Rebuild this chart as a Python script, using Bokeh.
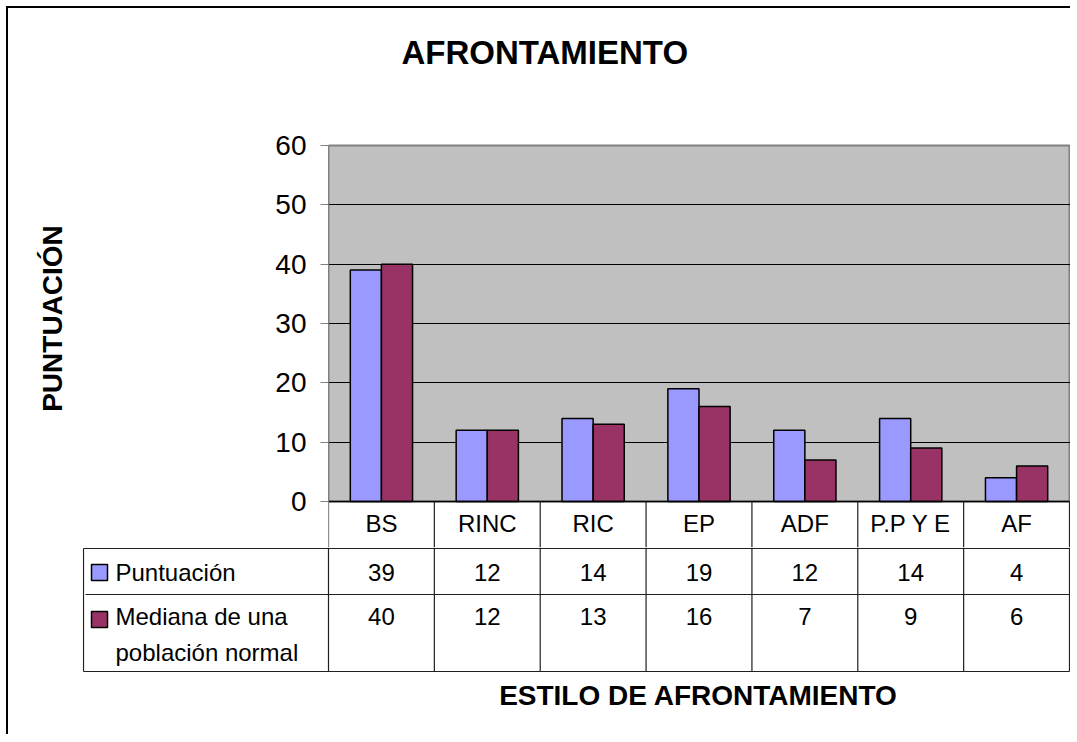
import textwrap
from bokeh.plotting import figure
from bokeh.layouts import column
from bokeh.models import Range1d, FixedTicker, ColumnDataSource, Label
from bokeh.core.properties import value
from bokeh.embed import file_html
from bokeh.resources import INLINE
from bokeh.transform import dodge

# ---------------- data ----------------
categories = ["BS", "RINC", "RIC", "EP", "ADF", "P.P Y E", "AF"]
puntuacion = [39, 12, 14, 19, 12, 14, 4]
mediana = [40, 12, 13, 16, 7, 9, 6]
series_names = ["Puntuación", "Mediana de una población normal"]
series_colors = ["#9999FF", "#993366"]
y_ticks = [0, 10, 20, 30, 40, 50, 60]
title_text = "AFRONTAMIENTO"
y_title = "PUNTUACIÓN"
x_title = "ESTILO DE AFRONTAMIENTO"

FONT_NAME = "Liberation Sans"
FONT = value(FONT_NAME)
N = len(categories)
YMAX = max(y_ticks)

# layout geometry (pixels)
PX = 741 / N          # px per category
PY = 356 / YMAX       # px per y unit

xs = [i + 0.5 for i in range(N)]
src = ColumnDataSource(dict(x=xs, cat=categories, p=puntuacion, m=mediana,
                            ps=[str(v) for v in puntuacion],
                            ms=[str(v) for v in mediana]))

# ---------------- chart figure ----------------
pA = figure(width=1062, height=539,
            x_range=Range1d(0, N + 1 / PX),
            y_range=Range1d(-(547 - 501) / PY, YMAX + (145 - 89) / PY),
            min_border_left=320, min_border_right=0, min_border_top=81, min_border_bottom=0,
            x_axis_location=None, y_axis_location="left",
            output_backend="svg", toolbar_location=None)
pA.outline_line_color = None
pA.background_fill_color = "white"
pA.border_fill_color = "white"
pA.xgrid.visible = False

pA.title.text = title_text
pA.title.align = "left"
pA.title.offset = 73
pA.title.standoff = 38
pA.title.text_font = FONT_NAME
pA.title.text_font_size = "33px"
pA.title.text_font_style = "bold"
pA.title.text_color = "black"

yax = pA.yaxis[0]
yax.ticker = FixedTicker(ticks=y_ticks)
yax.bounds = (min(y_ticks), YMAX)
yax.minor_tick_line_color = None
yax.major_tick_in = 0
yax.major_tick_out = 8
yax.major_tick_line_color = "#808080"
yax.axis_line_color = "#808080"
yax.major_label_standoff = 14
yax.major_label_text_font = FONT_NAME
yax.major_label_text_font_size = "28px"
yax.major_label_text_color = "black"
yax.axis_label = y_title
yax.axis_label_text_font = FONT_NAME
yax.axis_label_text_font_size = "28px"
yax.axis_label_text_font_style = "bold"
yax.axis_label_text_color = "black"
yax.axis_label_standoff = 204

pA.ygrid.ticker = FixedTicker(ticks=y_ticks[1:-1])
pA.ygrid.grid_line_color = "black"
pA.ygrid.grid_line_width = 1
pA.ygrid.bounds = (0, N)

# plot area background
pA.quad(left=[0], right=[N], bottom=[0], top=[YMAX], fill_color="#C0C0C0",
        line_color="#808080", line_width=2, level="image")

# bars
pA.vbar(x=dodge("x", -0.147, range=pA.x_range), top="p", width=0.294, source=src,
        fill_color=series_colors[0], line_color="black", line_width=1.5)
pA.vbar(x=dodge("x", 0.147, range=pA.x_range), top="m", width=0.294, source=src,
        fill_color=series_colors[1], line_color="black", line_width=1.5)

# baseline
pA.segment(x0=[0], y0=[0], x1=[N], y1=[0], line_color="black", line_width=1.5)

# category row of the data table
pA.segment(x0=list(range(N + 1)), y0=[0] * (N + 1), x1=list(range(N + 1)),
           y1=[pA.y_range.start] * (N + 1), line_color="#202020", line_width=1.2)
pA.text(x="x", y=-(523 - 501) / PY, text="cat", source=src,
        text_align="center", text_baseline="middle", text_font=FONT,
        text_font_size="24px", text_color="black")

# ---------------- table figure ----------------
xl = -(328 - 83) / PX
pB = figure(width=1062, height=187,
            x_range=Range1d(-(328 - 82) / PX, N + 1 / PX),
            y_range=Range1d(187, 0),
            min_border_left=74, min_border_right=0, min_border_top=0, min_border_bottom=0,
            x_axis_location=None, y_axis_location=None,
            output_backend="svg", toolbar_location=None)
pB.outline_line_color = None
pB.xgrid.visible = False
pB.ygrid.visible = False
pB.border_fill_color = "white"

# horizontal table lines
pB.segment(x0=[xl, -(328 - 85) / PX, xl], y0=[1, 47, 124], x1=[N, N, N], y1=[1, 47, 124],
           line_color="#202020", line_width=1.2)
# vertical table lines
pB.segment(x0=list(range(N + 1)) + [xl], y0=[0] * (N + 1) + [1],
           x1=list(range(N + 1)) + [xl], y1=[124] * (N + 2),
           line_color="#202020", line_width=1.2)

# legend keys and labels
pB.scatter(x=[(99 - 328) / PX] * 2, y=[25, 72], marker="square", size=16,
           fill_color=series_colors, line_color="black", line_width=1.5)
lines0 = textwrap.wrap(series_names[0], 16)
lines1 = textwrap.wrap(series_names[1], 16)
lab_text = lines0 + lines1
lab_y = [25] + [69 + 36 * k for k in range(len(lines1))]
pB.text(x=[(115 - 328) / PX] * len(lab_text), y=lab_y, text=lab_text,
        text_align="left", text_baseline="middle", text_font=FONT,
        text_font_size="24px", text_color="black")

# values
pB.text(x="x", y=25, text="ps", source=src, text_align="center", text_baseline="middle",
        text_font=FONT, text_font_size="24px", text_color="black")
pB.text(x="x", y=69, text="ms", source=src, text_align="center", text_baseline="middle",
        text_font=FONT, text_font_size="24px", text_color="black")

# x axis title
pB.add_layout(Label(x=(698 - 328) / PX, y=148, text=x_title, text_align="center",
                    text_baseline="middle", text_font=FONT_NAME, text_font_size="28px",
                    text_font_style="bold", text_color="black"))

layout = column(column(pA), column(pB), spacing=0,
                styles={"border-left": "2px solid black", "border-top": "2px solid black",
                        "margin-left": "6px", "margin-top": "6px"})

open("out.html", "w").write(file_html(layout, INLINE))
